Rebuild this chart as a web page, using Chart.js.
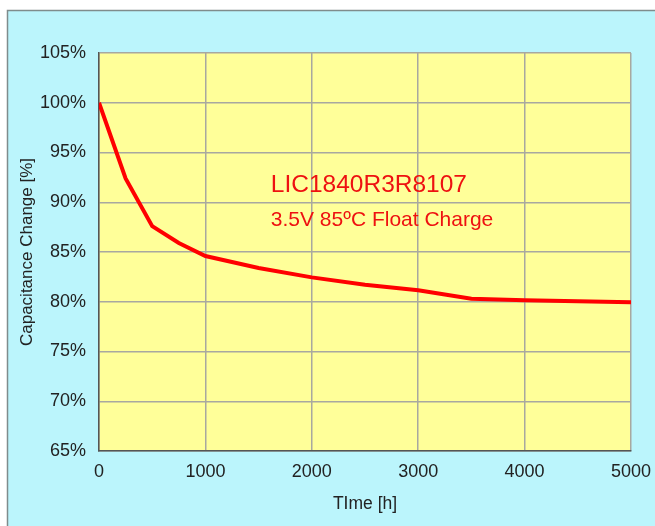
<!DOCTYPE html>
<html>
<head>
<meta charset="utf-8">
<script src="https://cdn.jsdelivr.net/npm/chart.js@4"></script>
<style>
  html, body { margin: 0; padding: 0; background: #fff; }
  #wrap { width: 655px; height: 526px; }
</style>
</head>
<body>
<div id="wrap"><canvas id="cap-chart" width="655" height="526"></canvas></div>
<script>
// float charge test, capacitance vs time
var hours = [0, 250, 500, 750, 1000, 1500, 2000, 2500, 3000, 3500, 4000, 4500, 5000];
var capacitance = [100, 92.4, 87.6, 85.9, 84.6, 83.4, 82.45, 81.7, 81.15, 80.3, 80.15, 80.05, 79.95];
var xTicks = [0, 1000, 2000, 3000, 4000, 5000];
var yTicks = [65, 70, 75, 80, 85, 90, 95, 100, 105];
var partName = 'LIC1840R3R8107';
var testName = '3.5V 85ºC Float Charge';

var FONT = 'Arial, "Liberation Sans", sans-serif';

var backdrop = {
    id: 'backdrop',
    beforeDraw: function (chart) {
        var ctx = chart.ctx, a = chart.chartArea;
        ctx.save();
        ctx.fillStyle = '#ffffff';
        ctx.fillRect(0, 0, chart.width, chart.height);
        ctx.fillStyle = '#bbf5fc';
        ctx.fillRect(7, 10, chart.width, chart.height);
        ctx.strokeStyle = '#7f8c8c';
        ctx.lineWidth = 1.5;
        ctx.strokeRect(7.5, 10.5, chart.width + 5, chart.height + 5);
        ctx.fillStyle = '#ffff99';
        ctx.fillRect(a.left, a.top, a.right - a.left, a.bottom - a.top);
        ctx.restore();
    },
    afterDraw: function (chart) {
        var ctx = chart.ctx;
        var x = chart.scales.x, y = chart.scales.y;
        ctx.save();
        ctx.fillStyle = '#ee1111';
        ctx.textAlign = 'left';
        ctx.textBaseline = 'alphabetic';
        ctx.font = '24.5px ' + FONT;
        ctx.fillText(partName, x.getPixelForValue(1615), y.getPixelForValue(91));
        ctx.font = '21px ' + FONT;
        ctx.fillText(testName, x.getPixelForValue(1615), y.getPixelForValue(87.65));
        ctx.restore();
    }
};

var config = {
    type: 'line',
    data: {
        labels: hours,
        datasets: [{
            data: hours.map(function (h, i) { return { x: h, y: capacitance[i] }; }),
            borderColor: '#ff0000',
            borderWidth: 4,
            pointRadius: 0,
            tension: 0,
            fill: false
        }]
    },
    options: {
        responsive: false,
        animation: false,
        layout: { padding: { left: 0, top: 53, right: 24, bottom: 0 } },
        plugins: { legend: { display: false }, tooltip: { enabled: false } },
        scales: {
            x: {
                type: 'linear',
                min: 0,
                max: 5000,
                afterBuildTicks: function (s) { s.ticks = xTicks.map(function (v) { return { value: v }; }); },
                grid: { color: '#a8a8a0', lineWidth: 1.5, drawTicks: false },
                border: { color: '#555555', width: 1.5 },
                ticks: {
                    color: '#222', font: { family: FONT, size: 18 }, padding: 10, maxRotation: 0,
                    callback: function (v) { return String(v); }
                },
                title: { display: true, text: 'TIme [h]', color: '#222', font: { family: FONT, size: 17.5 }, padding: { top: 8, bottom: 11 } },
                afterFit: function (s) { s.height = 75; s.paddingLeft = 0; s.paddingRight = 0; }
            },
            y: {
                min: 65,
                max: 105,
                afterBuildTicks: function (s) { s.ticks = yTicks.map(function (v) { return { value: v }; }); },
                grid: { color: '#a8a8a0', lineWidth: 1.5, drawTicks: false },
                border: { color: '#555555', width: 1.5 },
                ticks: {
                    color: '#222', font: { family: FONT, size: 18 }, padding: 13,
                    callback: function (v) { return v + '%'; }
                },
                title: { display: true, text: 'Capacitance Change [%]', color: '#222', font: { family: FONT, size: 17 }, padding: { top: 17, bottom: 4 } },
                afterFit: function (s) { s.width = 99; s.paddingTop = 0; s.paddingBottom = 0; }
            }
        }
    },
    plugins: [backdrop]
};

var ctx = document.getElementById('cap-chart').getContext('2d');
window.capChart = new Chart(ctx, config);
</script>
</body>
</html>
